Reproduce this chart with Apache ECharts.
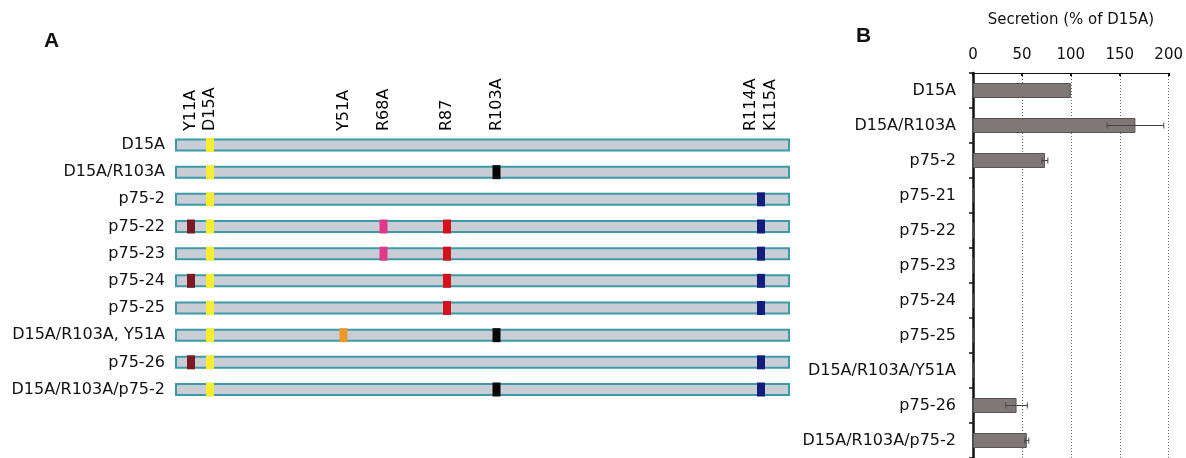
<!DOCTYPE html>
<html>
<head>
<meta charset="utf-8">
<script src="https://cdn.jsdelivr.net/npm/echarts@6/dist/echarts.min.js"></script>
<style>
  html, body { margin: 0; padding: 0; background: #fff; }
  #chart { width: 1186px; height: 458px; }
</style>
</head>
<body>
<div id="chart"></div>
<script>
// ---- Panel A: construct maps ----
const constructNames = [
  'D15A', 'D15A/R103A', 'p75-2', 'p75-22', 'p75-23', 'p75-24',
  'p75-25', 'D15A/R103A, Y51A', 'p75-26', 'D15A/R103A/p75-2'
];
// schematic length of each construct (diagram units)
const constructLength = 123;
// mutation sites and their positions along the schematic
const siteNames = ['Y11A', 'D15A', 'Y51A', 'R68A', 'R87', 'R103A', 'R114A\nK115A'];
const sitePositions = [3.2, 7, 33.7, 41.7, 54.4, 64.3, 117.2];
// sites carried by each construct (indices into siteNames)
const constructSites = [
  [1],
  [1, 5],
  [1, 6],
  [0, 1, 3, 4, 6],
  [1, 3, 4, 6],
  [0, 1, 4, 6],
  [1, 4, 6],
  [1, 2, 5],
  [0, 1, 6],
  [1, 5, 6]
];

// ---- Panel B: secretion ----
const secretionCategories = [
  'D15A', 'D15A/R103A', 'p75-2', 'p75-21', 'p75-22', 'p75-23',
  'p75-24', 'p75-25', 'D15A/R103A/Y51A', 'p75-26', 'D15A/R103A/p75-2'
];
const secretionMean = [100, 166, 73.5, 0, 0, 0, 0, 0, 0, 44.5, 55];
const secretionErr = [0, 29, 3, 0, 0, 0, 0, 0, 0, 11, 2];
const secretionTicks = { min: 0, max: 200, step: 50 };

const siteColors = ['#7b1a22', '#f6ec32', '#f0982a', '#e0388c', '#d3121e', '#050505', '#141c7c'];
const FONT = 'DejaVu Sans';
const TXT = '#111';

const markerData = [];
constructSites.forEach((sites, row) => {
  sites.forEach(s => {
    markerData.push({ value: [sitePositions[s], row], itemStyle: { color: siteColors[s], opacity: 1 } });
  });
});

const siteLabelData = siteNames.map((n, i) => ({ name: n, value: [sitePositions[i], 0] }));

const errData = [];
secretionMean.forEach((m, i) => {
  if (secretionErr[i] > 0) errData.push([m - secretionErr[i], m + secretionErr[i], i]);
});

const chart = echarts.init(document.getElementById('chart'));
chart.setOption({
  animation: false,
  backgroundColor: '#fff',
  textStyle: { fontFamily: FONT, color: TXT },
  graphic: [
    { type: 'text', left: 44, top: 31, style: { text: 'A', font: 'bold 21px "Liberation Sans", Arial', fill: '#111' } },
    { type: 'text', left: 856, top: 26, style: { text: 'B', font: 'bold 21px "Liberation Sans", Arial', fill: '#111' } }
  ],
  grid: [
    { left: 175, right: 396, top: 131.4, height: 271.7 },   // construct bars
    { left: 175, right: 396, top: 40, height: 91 },        // site labels strip
    { left: 973, right: 17.3, top: 73, bottom: 0 }         // secretion chart
  ],
  xAxis: [
    { gridIndex: 0, type: 'value', min: 0, max: constructLength, show: false },
    { gridIndex: 1, type: 'value', min: 0, max: constructLength, show: false },
    {
      gridIndex: 2, type: 'value', position: 'top',
      min: secretionTicks.min, max: secretionTicks.max, interval: secretionTicks.step,
      name: 'Secretion (% of D15A)', nameLocation: 'middle', nameGap: 45,
      nameTextStyle: { fontFamily: FONT, fontSize: 15, color: TXT },
      axisLine: { show: true, lineStyle: { color: '#111', width: 1 } },
      axisTick: { show: true, inside: true, length: 3, lineStyle: { color: '#111', width: 2 } },
      axisLabel: { fontFamily: FONT, fontSize: 15, color: TXT, margin: 10 },
      splitLine: { show: true, lineStyle: { color: '#666', width: 1, type: [1, 2] } }
    }
  ],
  yAxis: [
    {
      gridIndex: 0, type: 'category', data: constructNames, inverse: true,
      axisLine: { show: false }, axisTick: { show: false },
      axisLabel: { fontFamily: FONT, fontSize: 16, color: TXT, margin: 10 }
    },
    { gridIndex: 1, type: 'value', min: 0, max: 1, show: false },
    {
      gridIndex: 2, type: 'category', data: secretionCategories, inverse: true,
      axisLine: { show: true, lineStyle: { color: '#111', width: 2.5 } },
      axisTick: { show: true, length: 4, interval: 0, lineStyle: { color: '#111', width: 1.5 } },
      axisLabel: { fontFamily: FONT, fontSize: 16, color: TXT, margin: 17 }
    }
  ],
  series: [
    {
      // full-length construct bodies
      type: 'bar', xAxisIndex: 0, yAxisIndex: 0,
      data: constructNames.map(() => constructLength),
      barWidth: 13,
      itemStyle: { color: '#c8cdd6', borderColor: '#3c9aa9', borderWidth: 2 },
      silent: true
    },
    {
      // mutation markers
      type: 'scatter', xAxisIndex: 0, yAxisIndex: 0,
      symbol: 'rect', symbolSize: [8, 14],
      itemStyle: { opacity: 1 },
      data: markerData, z: 5, silent: true
    },
    {
      // site names above the maps
      type: 'scatter', xAxisIndex: 1, yAxisIndex: 1,
      symbolSize: 0, data: siteLabelData, silent: true,
      itemStyle: { opacity: 1 },
      label: {
        show: true, position: [0, 0], rotate: 90,
        align: 'left', verticalAlign: 'middle',
        formatter: p => p.name, opacity: 1,
        fontFamily: FONT, fontSize: 16, color: '#000', lineHeight: 20
      }
    },
    {
      // secretion bars
      type: 'bar', xAxisIndex: 2, yAxisIndex: 2,
      data: secretionMean, barWidth: 15,
      itemStyle: { color: '#807777', borderColor: '#5b5252', borderWidth: 1 },
      silent: true
    },
    {
      // error bars
      type: 'custom', xAxisIndex: 2, yAxisIndex: 2,
      data: errData, z: 6, silent: true,
      encode: { x: [0, 1], y: 2 },
      renderItem: (params, api) => {
        const idx = api.value(2);
        const p1 = api.coord([api.value(0), idx]);
        const p2 = api.coord([api.value(1), idx]);
        const h = 3;
        const st = { stroke: '#444', lineWidth: 1 };
        return {
          type: 'group',
          children: [
            { type: 'line', shape: { x1: p1[0], y1: p1[1], x2: p2[0], y2: p2[1] }, style: st },
            { type: 'line', shape: { x1: p1[0], y1: p1[1] - h, x2: p1[0], y2: p1[1] + h }, style: st },
            { type: 'line', shape: { x1: p2[0], y1: p2[1] - h, x2: p2[0], y2: p2[1] + h }, style: st }
          ]
        };
      }
    }
  ]
});
</script>
</body>
</html>
